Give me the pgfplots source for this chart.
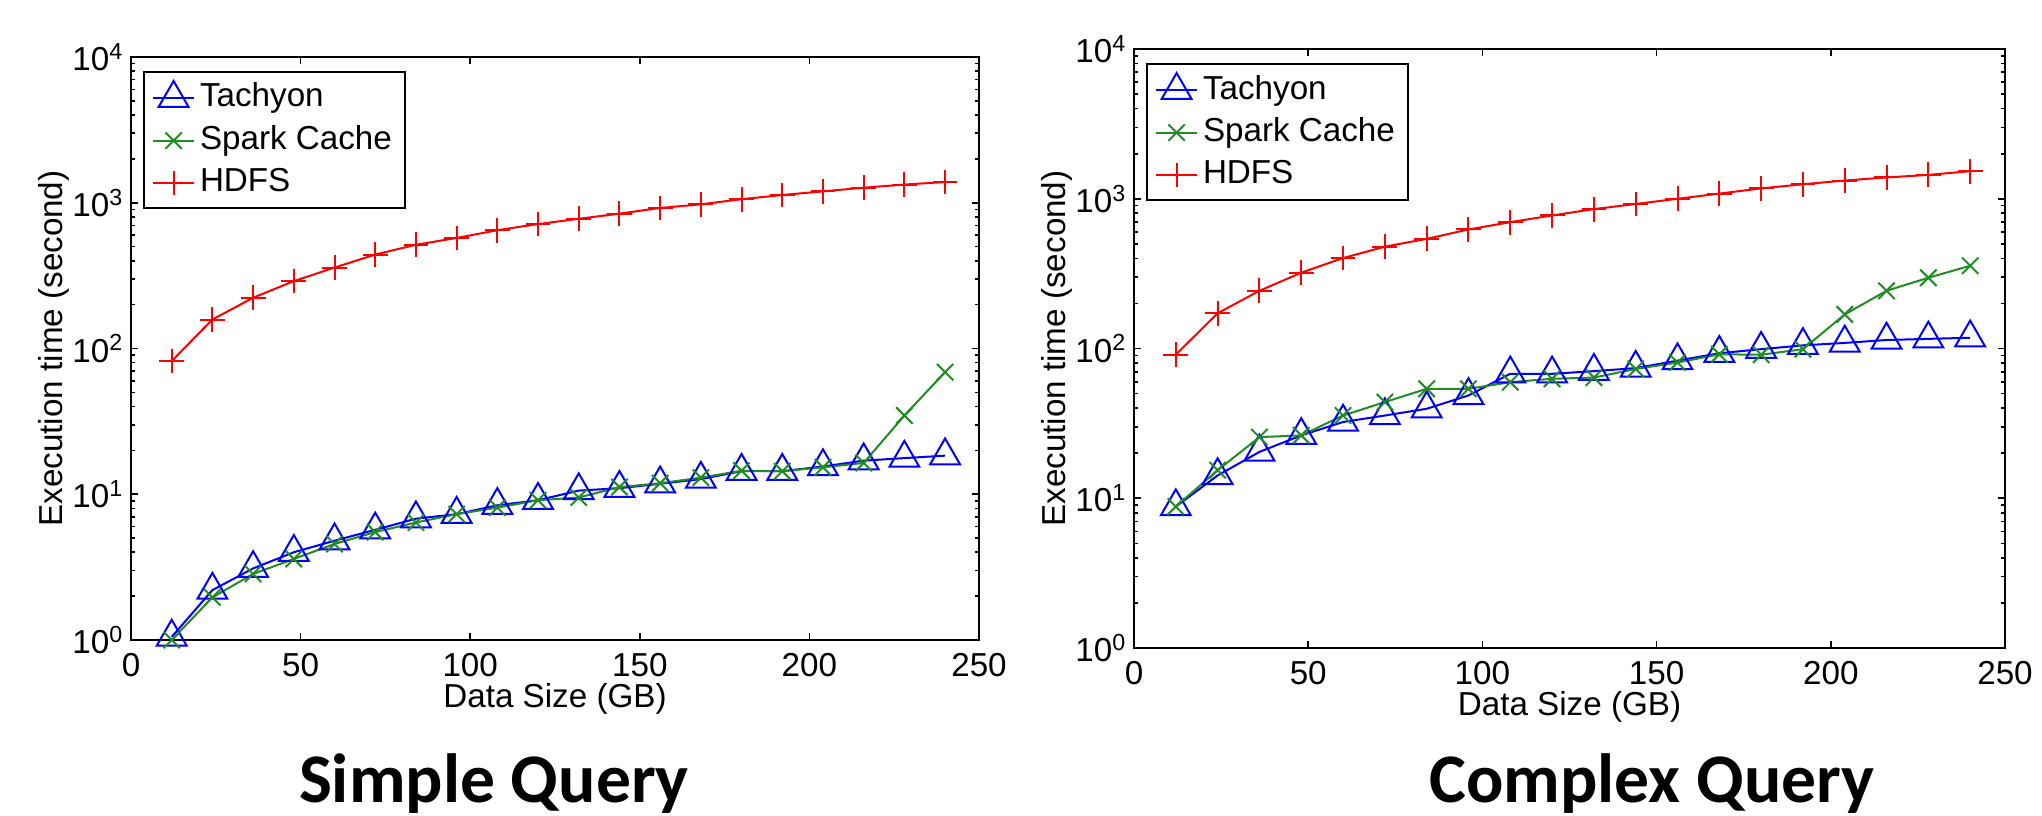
\documentclass[border=0pt]{standalone}
\usepackage{fontspec}
\setmainfont{Liberation Sans}
\newfontfamily\titlefont{Carlito}
\usepackage{pgfplots}
\usepackage{pgfplotstable}
\pgfplotsset{compat=1.18}
\definecolor{mBlue}{RGB}{0,0,255}
\definecolor{mGreen}{RGB}{34,139,34}
\definecolor{mRed}{RGB}{255,0,0}

% execution time (s) vs data size (GB)
\pgfplotstableread{
size tachyon spark hdfs
12  1.05  1.0   82
24  2.2   1.96  158
36  3.1   2.84  223
48  4.0   3.6   290
60  4.8   4.56  359
72  5.7   5.5   441
84  6.8   6.4   515
96  7.3   7.3   573
108 8.4   8.1   648
120 9.1   9.1   714
132 10.6  9.5   776
144 11.0  11.2  842
156 11.8  11.9  921
168 12.7  13.0  975
180 14.4  14.5  1058
192 14.4  14.4  1130
204 15.5  15.3  1197
216 17.0  16.4  1268
228 17.7  34.7  1333
240 18.4  68.8  1387
}\simpletab

\pgfplotstableread{
size tachyon spark hdfs
12  8.8   8.8   91
24  14.2  15.4  172
36  20.4  25.6  243
48  26.3  26.3  321
60  32.3  35.7  402
72  35.7  43.9  479
84  39.6  53.8  540
96  48.6  53.8  624
108 67.8  59.6  698
120 67.8  62.8  774
132 70.6  64.0  853
144 74    73    923
156 83    80.6  1000
168 93    91.5  1083
180 99    90.9  1173
192 105   99    1250
204 109   169   1324
216 114   243   1388
228 116   297   1444
240 118   357   1528
}\complextab

\pgfplotsset{
  querystyle/.style={
    scale only axis,
    xmin=0, xmax=250, ymin=1, ymax=10000,
    xtick={0,50,...,250},
    ytick={1,10,100,1000,10000},
    yticklabels={10\textsuperscript{0},10\textsuperscript{1},10\textsuperscript{2},10\textsuperscript{3},10\textsuperscript{4}},
    minor ytick={2,3,4,5,6,7,8,9,20,30,40,50,60,70,80,90,200,300,400,500,600,700,800,900,2000,3000,4000,5000,6000,7000,8000,9000},
    tick align=inside,
    axis line style={line width=0.65pt},
    every tick/.style={black, line width=0.4pt},
    major tick length=1.8pt,
    minor tick length=1pt,
    font=\fontsize{8.3}{10}\selectfont,
    /pgf/number format/assume math mode=true,
    xticklabel style={inner sep=1pt, yshift=-2.2pt},
    yticklabel style={inner sep=1.5pt},
    xlabel={Data Size (GB)},
    ylabel={Execution time (second)},
    xlabel style={inner sep=0pt, yshift=-0.5pt},
    ylabel style={inner sep=0pt, yshift=-1pt},
    legend cell align=left,
    legend style={at={(axis description cs:0,1)}, anchor=north west,
      xshift=3pt, yshift=-3.5pt, draw=black, line width=0.6pt,
      inner xsep=2pt, inner ysep=2.2pt, row sep=2.6pt,
      nodes={inner xsep=1.2pt, inner ysep=0pt, text height=6.2pt, text depth=1.8pt},
      font=\fontsize{8.3}{10}\selectfont},
    legend image code/.code={
      \draw[mark repeat=2, mark phase=2, ##1] plot coordinates {(0pt,0pt) (5.1pt,0pt) (10.25pt,0pt)};
    },
    every axis plot/.append style={line width=0.5pt},
  },
  tachyon/.style={color=mBlue, mark=triangle, mark size=4.3pt, mark options={line width=0.5pt}},
  sparkc/.style={color=mGreen, mark=x, mark size=2.9pt},
  hdfs/.style={color=mRed, mark=+, mark size=3.1pt},
}

\begin{document}
\begin{tikzpicture}
\path[use as bounding box] (0,0) rectangle (510.5pt,203.75pt);

\begin{semilogyaxis}[querystyle, at={(32.75pt,43.75pt)}, anchor=south west,
  width=212pt, height=145.75pt]
\addplot[tachyon] table[x=size, y=tachyon] {\simpletab};
\addlegendentry{Tachyon}
\addplot[sparkc] table[x=size, y=spark] {\simpletab};
\addlegendentry{Spark Cache}
\addplot[hdfs] table[x=size, y=hdfs] {\simpletab};
\addlegendentry{HDFS}
\end{semilogyaxis}

\begin{semilogyaxis}[querystyle, at={(283.5pt,41.75pt)}, anchor=south west,
  width=217.75pt, height=149.75pt]
\addplot[tachyon] table[x=size, y=tachyon] {\complextab};
\addlegendentry{Tachyon}
\addplot[sparkc] table[x=size, y=spark] {\complextab};
\addlegendentry{Spark Cache}
\addplot[hdfs] table[x=size, y=hdfs] {\complextab};
\addlegendentry{HDFS}
\end{semilogyaxis}

\node[anchor=base, inner sep=0pt, font=\titlefont\bfseries\fontsize{17.4}{20}\selectfont] at (123.5pt,3.25pt) {Simple Query};
\node[anchor=base, inner sep=0pt, font=\titlefont\bfseries\fontsize{17.4}{20}\selectfont] at (413pt,3.25pt) {Complex Query};
\end{tikzpicture}
\end{document}
